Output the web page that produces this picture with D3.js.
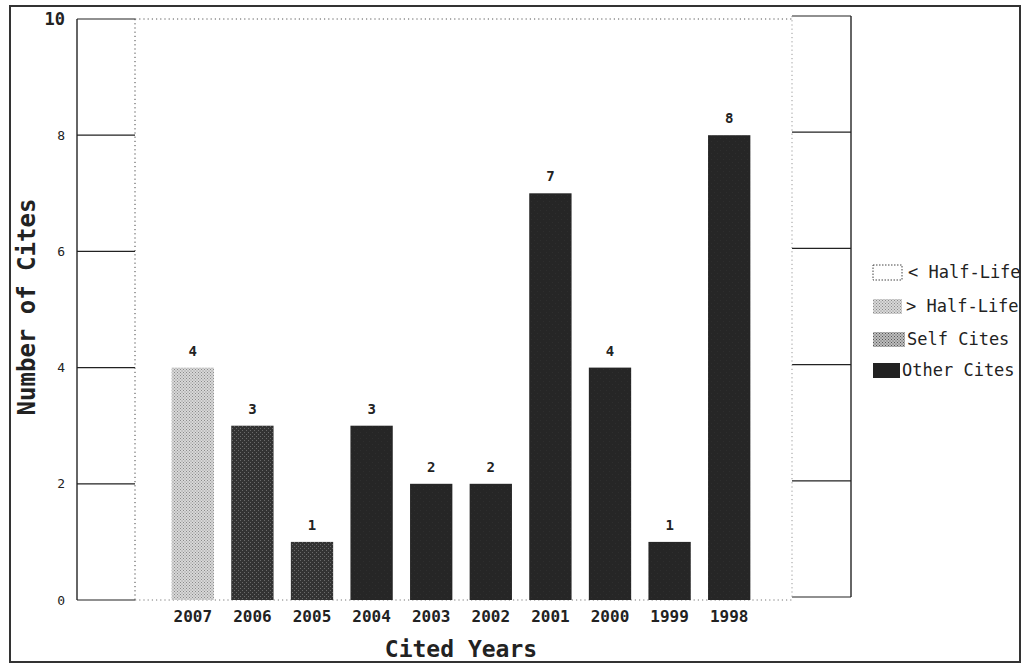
<!DOCTYPE html>
<html><head><meta charset="utf-8">
<script src="https://cdn.jsdelivr.net/npm/d3@7"></script>
<style>body{margin:0;background:#fff}svg{display:block}</style>
</head><body>
<svg id="c" width="1025" height="665"></svg>
<script>
const years = ["2007","2006","2005","2004","2003","2002","2001","2000","1999","1998"];
const cites = [4,3,1,3,2,2,7,4,1,8];
const kinds = ["light","dark","dark","black","black","black","black","black","black","black"];
const yTicks = [0,2,4,6,8,10];
const legendLabels = ["< Half-Life","> Half-Life","Self Cites","Other Cites"];

const svg = d3.select("#c");
const font = "'DejaVu Sans Mono', monospace";
const defs = svg.append("defs");
function pat(id, bg, dot, size){
  const p = defs.append("pattern").attr("id",id).attr("width",size).attr("height",size).attr("patternUnits","userSpaceOnUse");
  p.append("rect").attr("width",size).attr("height",size).attr("fill",bg);
  p.append("rect").attr("x",0).attr("y",0).attr("width",1).attr("height",1).attr("fill",dot);
  p.append("rect").attr("x",size/2).attr("y",size/2).attr("width",1).attr("height",1).attr("fill",dot);
}
pat("pLight","#d8d8d8","#8a8a8a",3);
pat("pDark","#333","#6a6a6a",4);
pat("pBlack","#262626","#2e2e2e",6);
pat("pSelf","#bdbdbd","#555",3);
const fills = {light:"url(#pLight)", dark:"url(#pDark)", black:"url(#pBlack)"};

svg.append("rect").attr("x",10).attr("y",6).attr("width",1010).attr("height",656)
  .attr("fill","none").attr("stroke","#333").attr("stroke-width",2);

const y = d3.scaleLinear().domain([0,10]).range([600,19]);
const x = d3.scaleBand().domain(years).range([163,759]).paddingInner(0.29).paddingOuter(0.145);

const leftX0 = 77, plotL = 135, plotR = 792, rightX1 = 851;

const g = svg.append("g");
g.append("line").attr("x1",leftX0).attr("x2",leftX0).attr("y1",y(10)).attr("y2",y(0)).attr("stroke","#333").attr("stroke-width",1.5);
g.selectAll(".lt").data(yTicks).join("line").attr("x1",leftX0).attr("x2",plotL)
  .attr("y1",d=>y(d)).attr("y2",d=>y(d)).attr("stroke","#222").attr("stroke-width",1.2);
g.append("line").attr("x1",rightX1).attr("x2",rightX1).attr("y1",y(10)-3).attr("y2",y(0)-3).attr("stroke","#333").attr("stroke-width",1.5);
g.selectAll(".rt").data(yTicks).join("line").attr("x1",plotR).attr("x2",rightX1)
  .attr("y1",d=>y(d)-3).attr("y2",d=>y(d)-3).attr("stroke","#222").attr("stroke-width",1.2);
const dot = "1.2,3";
g.append("line").attr("x1",plotL).attr("x2",plotL).attr("y1",y(10)).attr("y2",y(0)).attr("stroke","#444").attr("stroke-dasharray",dot);
g.append("line").attr("x1",plotR).attr("x2",plotR).attr("y1",y(10)-3).attr("y2",y(0)-3).attr("stroke","#999").attr("stroke-dasharray",dot);
g.append("line").attr("x1",plotL).attr("x2",plotR).attr("y1",y(10)).attr("y2",y(10)).attr("stroke","#555").attr("stroke-dasharray",dot);
g.append("line").attr("x1",plotL).attr("x2",plotR).attr("y1",y(0)).attr("y2",y(0)).attr("stroke","#777").attr("stroke-dasharray",dot);

svg.selectAll(".yl").data(yTicks).join("text")
  .attr("x",65).attr("y",d=>y(d)).attr("dy","0.35em").attr("text-anchor","end")
  .attr("font-family",font).attr("font-weight",d=>d===10?"bold":"normal").attr("font-size",d=>d===10?17:13).attr("fill","#222")
  .text(d=>d);

svg.selectAll(".bar").data(years).join("rect")
  .attr("x",d=>x(d)).attr("width",x.bandwidth())
  .attr("y",(d,i)=>y(cites[i])).attr("height",(d,i)=>y(0)-y(cites[i]))
  .attr("fill",(d,i)=>fills[kinds[i]]);
svg.selectAll(".vl").data(years).join("text")
  .attr("x",d=>x(d)+x.bandwidth()/2).attr("y",(d,i)=>y(cites[i])-12)
  .attr("text-anchor","middle").attr("font-family",font).attr("font-weight","bold").attr("font-size",14).attr("fill","#222")
  .text((d,i)=>cites[i]);
svg.selectAll(".xl").data(years).join("text")
  .attr("x",d=>x(d)+x.bandwidth()/2).attr("y",622)
  .attr("text-anchor","middle").attr("font-family",font).attr("font-weight","bold").attr("font-size",16).attr("fill","#222")
  .text(d=>d);

svg.append("text").attr("x",461).attr("y",657).attr("text-anchor","middle")
  .attr("font-family",font).attr("font-weight","bold").attr("font-size",23).attr("fill","#222").text("Cited Years");
svg.append("text").attr("transform","translate(35,307) rotate(-90)").attr("text-anchor","middle")
  .attr("font-family",font).attr("font-weight","bold").attr("font-size",24).attr("fill","#222").text("Number of Cites");

const legFills = ["#fff","url(#pLight)","url(#pSelf)","#222"];
const legY = [272,306,339,370];
const legW = [29,29,32,27];
const lg = svg.selectAll(".lg").data(legendLabels).join("g").attr("transform",(d,i)=>`translate(873,${legY[i]})`);
lg.append("rect").attr("x",0).attr("y",-7).attr("width",(d,i)=>legW[i]).attr("height",15)
  .attr("fill",(d,i)=>legFills[i]).attr("stroke",(d,i)=>i===0?"#444":"none").attr("stroke-dasharray","1.5,1.5");
lg.append("text").attr("x",(d,i)=>legW[i]+(i===0?6:i===1?4:2)).attr("y",0).attr("dy","0.35em")
  .attr("font-family",font).attr("font-size",17).attr("fill","#222").text(d=>d);
</script>
</body></html>
